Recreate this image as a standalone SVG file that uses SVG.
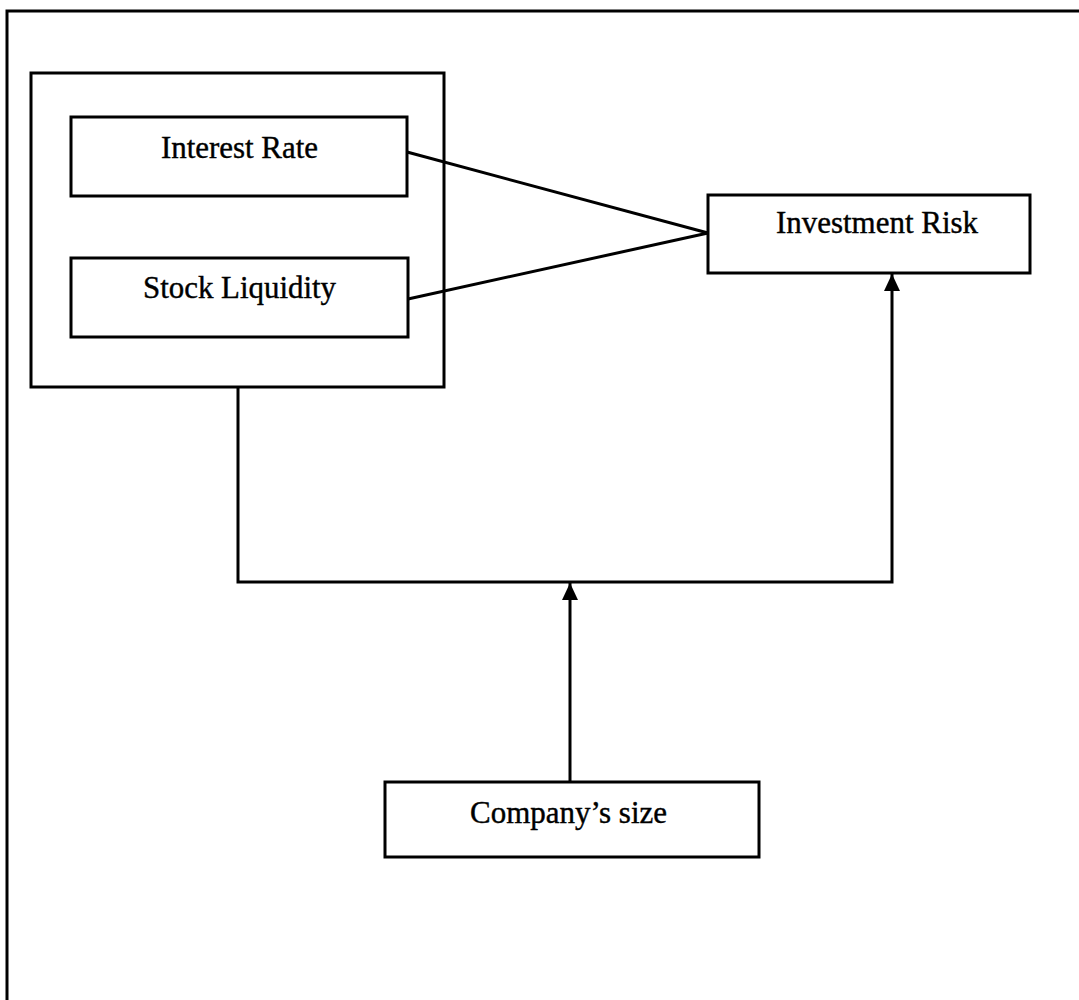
<svg xmlns="http://www.w3.org/2000/svg" width="1079" height="1000" viewBox="0 0 1079 1000">
<style>
.box{fill:#fff;stroke:#000;stroke-width:3}
.lbl{font-family:"Liberation Serif","Times New Roman",serif;font-size:31px;fill:#000;stroke:#000;stroke-width:0.4;text-anchor:middle}
.con{fill:none;stroke:#000;stroke-width:3}
</style>
<defs>
<marker id="arr" markerUnits="userSpaceOnUse" markerWidth="17" markerHeight="16" refX="17" refY="8" orient="auto">
<path d="M0,0 L17,8 L0,16 Z" fill="#000"/>
</marker>
</defs>
<rect width="1079" height="1000" fill="#fff"/>
<g id="frame">
<path d="M7,1000 L7,11 L1079,11" class="con" stroke-width="3.5"/>
</g>
<g id="group">
<rect x="31" y="73" width="413" height="314" class="box"/>
</g>
<g id="interest-rate">
<rect x="71" y="117" width="336" height="79" class="box"/>
<text x="239.5" y="158" class="lbl" textLength="157" lengthAdjust="spacingAndGlyphs">Interest Rate</text>
</g>
<g id="stock-liquidity">
<rect x="71" y="258" width="337" height="79" class="box"/>
<text x="239.5" y="298" class="lbl" textLength="193" lengthAdjust="spacingAndGlyphs">Stock Liquidity</text>
</g>
<g id="investment-risk">
<rect x="708" y="195" width="322" height="78" class="box"/>
<text x="877" y="233" class="lbl" textLength="202" lengthAdjust="spacingAndGlyphs">Investment Risk</text>
</g>
<g id="company-size">
<rect x="385" y="782" width="374" height="75" class="box"/>
<text x="568.5" y="823" class="lbl" textLength="197" lengthAdjust="spacingAndGlyphs">Company’s size</text>
</g>
<g id="connectors">
<line x1="407" y1="152" x2="708" y2="233" class="con"/>
<line x1="408" y1="299" x2="708" y2="233" class="con"/>
<path d="M238,387 L238,582 L892,582 L892,274" class="con" marker-end="url(#arr)"/>
<line x1="570" y1="782" x2="570" y2="583" class="con" marker-end="url(#arr)"/>
</g>
</svg>
